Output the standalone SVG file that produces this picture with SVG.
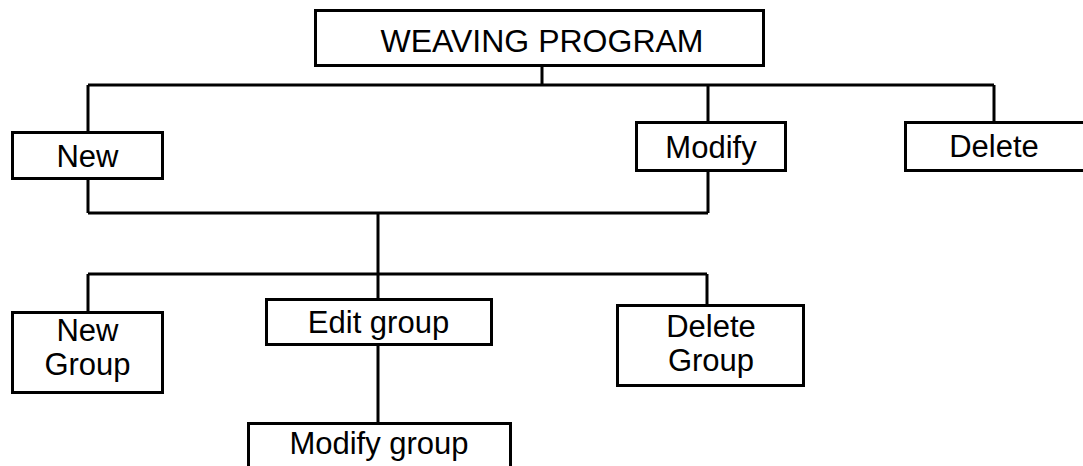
<svg xmlns="http://www.w3.org/2000/svg" width="1083" height="466" viewBox="0 0 1083 466">
<style>
.box{fill:#fff;stroke:#000;stroke-width:3}
.lbl{font-family:"Liberation Sans",Arial,sans-serif;font-size:31px;fill:#000;text-anchor:middle}
.con{fill:none;stroke:#000;stroke-width:3}
</style>
<rect width="1083" height="466" fill="#fff"/>
<g id="connectors" class="con">
<path d="M542 66V85M88 85H994M88 85V132M708 85V122M994 85V122"/>
<path d="M88 179V213M708 171V213M88 213H708M378 213V299"/>
<path d="M88 274H707M88 274V311M707 274V304M378 345V422"/>
</g>
<g id="weaving-program">
<rect class="box" x="315.5" y="10.5" width="448" height="55"/>
<text class="lbl" x="542" y="52" style="font-size:32px">WEAVING PROGRAM</text>
</g>
<g id="new">
<rect class="box" x="12.5" y="132.5" width="150" height="46"/>
<text class="lbl" x="87.5" y="166.5">New</text>
</g>
<g id="modify">
<rect class="box" x="636.5" y="122.5" width="149" height="48"/>
<text class="lbl" x="711" y="157.5">Modify</text>
</g>
<g id="delete">
<rect class="box" x="905.5" y="122.5" width="200" height="48"/>
<text class="lbl" x="994" y="157">Delete</text>
</g>
<g id="new-group">
<rect class="box" x="12.5" y="312.5" width="150" height="80"/>
<text class="lbl" x="87.5" y="341">New</text>
<text class="lbl" x="87.5" y="375">Group</text>
</g>
<g id="edit-group">
<rect class="box" x="266.5" y="299.5" width="225" height="45"/>
<text class="lbl" x="378.5" y="332.5">Edit group</text>
</g>
<g id="delete-group">
<rect class="box" x="617.5" y="305.5" width="186" height="80"/>
<text class="lbl" x="711" y="336.5">Delete</text>
<text class="lbl" x="711" y="371">Group</text>
</g>
<g id="modify-group">
<rect class="box" x="248.5" y="423.5" width="262" height="60"/>
<text class="lbl" x="379" y="454">Modify group</text>
</g>
</svg>
